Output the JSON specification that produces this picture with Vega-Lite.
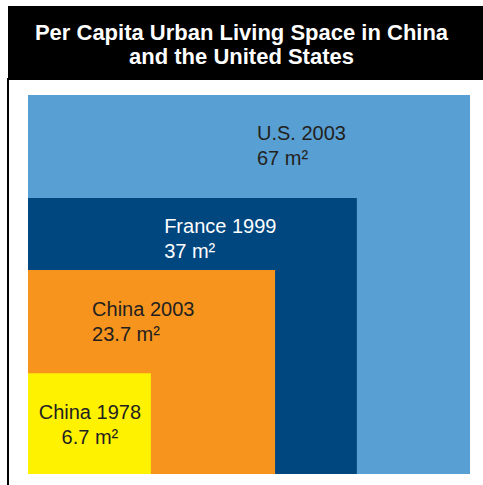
{
  "$schema": "https://vega.github.io/schema/vega-lite/v6.json",
  "padding": {"left": 7, "top": 6, "right": 0, "bottom": 0},
  "spacing": 0,
  "background": "white",
  "config": {"view": {"stroke": null}, "font": "Liberation Sans"},
  "vconcat": [
    {
      "width": 477,
      "height": 72,
      "view": {"fill": "black", "stroke": null},
      "data": {"values": [{"title": ["Per Capita Urban Living Space in China", "and the United States"]}]},
      "mark": {"type": "text", "font": "Liberation Sans", "fontWeight": "bold", "fontSize": 22, "color": "white", "align": "center", "baseline": "alphabetic", "lineHeight": 24, "dx": -5, "dy": -2},
      "encoding": {"text": {"field": "title", "type": "nominal"}}
    },
    {
      "width": 477,
      "height": 409,
      "view": {"stroke": "black", "strokeWidth": 2, "fill": "white"},
      "data": {
        "values": [
          {"name": "U.S. 2003", "area": 67, "w": 1.0, "h": 1.0, "lx": 0.518, "ly": 0.881, "label": ["U.S. 2003", "67 m²"]},
          {"name": "France 1999", "area": 37, "w": 0.744, "h": 0.728, "lx": 0.308, "ly": 0.636, "label": ["France 1999", "37 m²"]},
          {"name": "China 2003", "area": 23.7, "w": 0.559, "h": 0.538, "lx": 0.145, "ly": 0.417, "label": ["China 2003", "23.7 m²"]},
          {"name": "China 1978", "area": 6.7, "w": 0.278, "h": 0.266, "lx": 0.140, "ly": 0.145, "label": ["China 1978", "6.7 m²"]}
        ]
      },
      "layer": [
        {
          "mark": {"type": "rect"},
          "encoding": {
            "x": {"field": "w", "type": "quantitative", "scale": {"domain": [0, 1], "range": [20, 462], "nice": false, "zero": false}, "axis": null},
            "x2": {"datum": 0},
            "y": {"field": "h", "type": "quantitative", "scale": {"domain": [0, 1], "range": [395, 16], "nice": false, "zero": false}, "axis": null},
            "y2": {"datum": 0},
            "color": {
              "field": "name",
              "type": "nominal",
              "scale": {"domain": ["U.S. 2003", "France 1999", "China 2003", "China 1978"], "range": ["#589FD3", "#00467F", "#F7941E", "#FFF200"]},
              "legend": null
            }
          }
        },
        {
          "transform": [{"filter": "datum.name !== 'China 1978'"}],
          "mark": {"type": "text", "align": "left", "baseline": "alphabetic", "fontSize": 20, "lineHeight": 25},
          "encoding": {
            "x": {"field": "lx", "type": "quantitative", "axis": null},
            "y": {"field": "ly", "type": "quantitative", "axis": null},
            "text": {"field": "label", "type": "nominal"},
            "color": {"condition": {"test": "datum.name === 'France 1999'", "value": "white"}, "value": "#231F20"}
          }
        },
        {
          "transform": [{"filter": "datum.name === 'China 1978'"}],
          "mark": {"type": "text", "align": "center", "baseline": "alphabetic", "fontSize": 20, "lineHeight": 25, "color": "#231F20"},
          "encoding": {
            "x": {"field": "lx", "type": "quantitative", "axis": null},
            "y": {"field": "ly", "type": "quantitative", "axis": null},
            "text": {"field": "label", "type": "nominal"}
          }
        }
      ]
    }
  ]
}
